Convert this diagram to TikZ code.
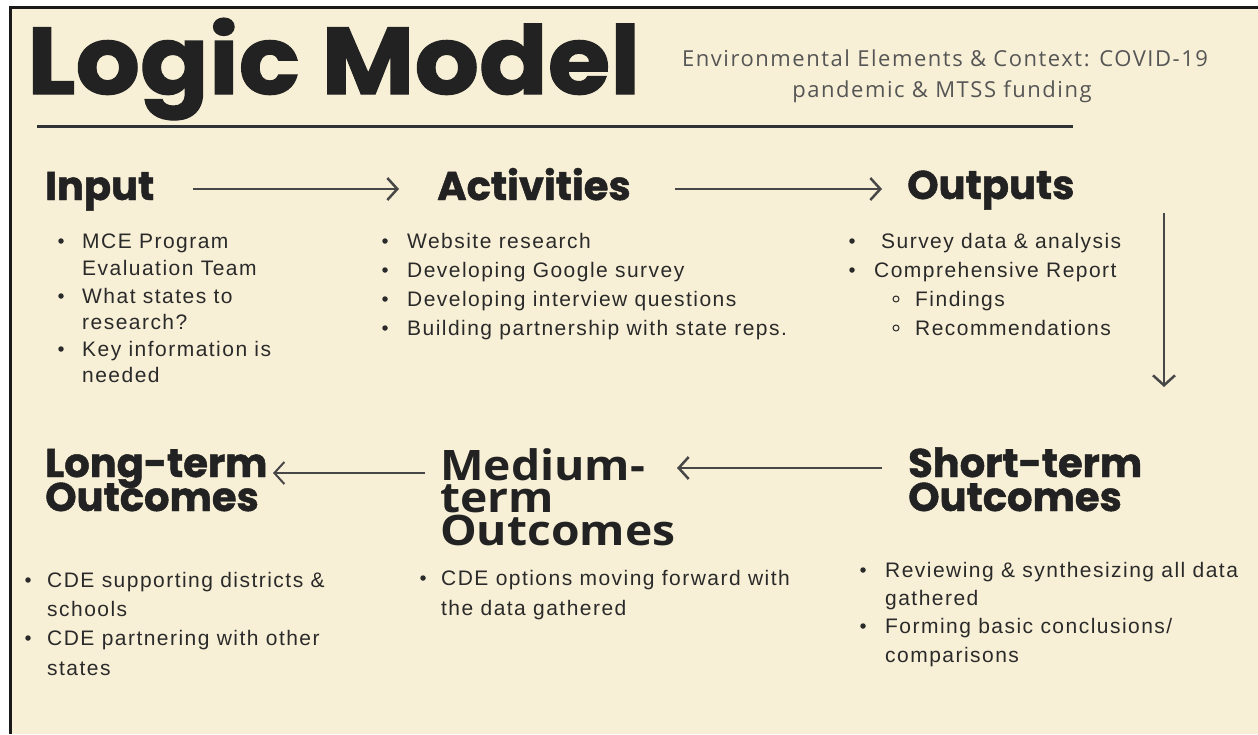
\documentclass[tikz,border=0pt]{standalone}
\usepackage{fontspec}
\usetikzlibrary{arrows.meta}
\setmainfont{Liberation Sans}
\newfontfamily\headfont{Poppins}[BoldFeatures={FakeBold=1.2}]
\newfontfamily\subfont{Open Sans}[LetterSpace=7]
\newfontfamily\bodyfont{Liberation Sans}[LetterSpace=7]
\newfontfamily\medfont{Open Sans}[FakeStretch=1.1]
\definecolor{cream}{HTML}{F8F0D6}
\definecolor{headc}{HTML}{222222}
\definecolor{bodyc}{HTML}{2A2A2A}
\definecolor{arrowc}{HTML}{474747}
\definecolor{subc}{HTML}{555555}
\definecolor{rulec}{HTML}{2F3336}
\begin{document}
\begin{tikzpicture}[x=1pt,y=-1pt,
  head/.style={inner sep=0pt, anchor=base west, text=headc, font=\headfont\bfseries\fontsize{40}{40}\selectfont},
  medhead/.style={inner sep=0pt, anchor=base west, text=headc, font=\medfont\bfseries\fontsize{42}{42}\selectfont},
  body/.style={inner sep=0pt, anchor=base west, text=bodyc, font=\bodyfont\fontsize{21}{24}\selectfont},
  dot/.style={circle, fill=bodyc, inner sep=0pt, minimum size=5.5pt},
  hollow/.style={circle, draw=bodyc, line width=1pt, inner sep=0pt, minimum size=6pt},
  flow/.style={draw=arrowc, line width=2.5pt, -{Straight Barb[length=10pt,width=22pt]}}]
\useasboundingbox (0,0) rectangle (1258,734);
\fill[white] (0,0) rectangle (1258,734);
\fill[black!90] (9,6) rectangle (1258,734);
\fill[cream] (12,9) rectangle (1258,734);

% title
\node[inner sep=0pt, anchor=base west, text=headc] (title) at (27,94)
  {\resizebox{613pt}{76pt}{\headfont\bfseries\addfontfeature{FakeBold=2}Logic Model}};
\node[inner sep=0pt, anchor=base, text=subc, font=\subfont\fontsize{22}{31}\selectfont] (sub1) at (945,66)
  {Environmental Elements \& Context: COVID-19};
\node[inner sep=0pt, anchor=base, text=subc, font=\subfont\fontsize{22}{31}\selectfont] (sub2) at (942,97)
  {pandemic \& MTSS funding};
\coordinate (ruleL) at (37,126);
\coordinate (ruleR) at (1073,126);
\draw[rulec, line width=3pt] (ruleL) -- (ruleR);

% headings
\node[head] (inH) at (45,200) {Input};
\node[head] (actH) at (437,200) {Activities};
\node[head] (outH) at (907,199) {Outputs};
\node[head] (ltH1) at (45,477) {Long-term};
\node[head] (ltH2) at (45,511) {Outcomes};
\node[medhead] (mtH1) at (440,480) {Medium-};
\node[medhead] (mtH2) at (440,512) {term};
\node[medhead] (mtH3) at (440,545) {Outcomes};
\node[head] (stH1) at (908,477) {Short-term};
\node[head] (stH2) at (908,511) {Outcomes};

% arrows
\coordinate (a1s) at (193,189); \coordinate (a1e) at (399,189);
\coordinate (a2s) at (675,189); \coordinate (a2e) at (882,189);
\coordinate (a3s) at (1164,213); \coordinate (a3e) at (1164,387);
\coordinate (a4s) at (882,468); \coordinate (a4e) at (677,468);
\coordinate (a5s) at (425,473); \coordinate (a5e) at (273,473);
\draw[flow] (a1s) -- (a1e);
\draw[flow] (a2s) -- (a2e);
\draw[flow] (a3s) -- (a3e);
\draw[flow] (a4s) -- (a4e);
\draw[flow, line width=2pt] (a5s) -- (a5e);

% Input list
\node[dot] (inB1) at (61,241) {};
\node[body] (in1) at (82,248) {MCE Program};
\node[body] (in2) at (82,275.5) {Evaluation Team};
\node[dot] (inB2) at (61,296) {};
\node[body] (in3) at (82,303) {What states to};
\node[body] (in4) at (82,329.5) {research?};
\node[dot] (inB3) at (61,349) {};
\node[body] (in5) at (82,356) {Key information is};
\node[body] (in6) at (82,382.5) {needed};

% Activities list
\node[dot] (acB1) at (385,241) {};
\node[body] (ac1) at (407,248) {Website research};
\node[dot] (acB2) at (385,270) {};
\node[body] (ac2) at (407,277) {Developing Google survey};
\node[dot] (acB3) at (385,299) {};
\node[body] (ac3) at (407,306) {Developing interview questions};
\node[dot] (acB4) at (385,328) {};
\node[body] (ac4) at (407,335) {Building partnership with state reps.};

% Outputs list
\node[dot] (ouB1) at (852,241) {};
\node[body] (ou1) at (881,248) {Survey data \& analysis};
\node[dot] (ouB2) at (852,270) {};
\node[body] (ou2) at (874,277) {Comprehensive Report};
\node[hollow] (ouS1) at (896,299) {};
\node[body] (ou3) at (915,306) {Findings};
\node[hollow] (ouS2) at (896,328) {};
\node[body] (ou4) at (915,335) {Recommendations};

% Long-term list
\node[dot] (ltB1) at (28,580) {};
\node[body] (lt1) at (47,587) {CDE supporting districts \&};
\node[body] (lt2) at (47,616) {schools};
\node[dot] (ltB2) at (28,638) {};
\node[body] (lt3) at (47,645) {CDE partnering with other};
\node[body] (lt4) at (47,675) {states};

% Medium-term list
\node[dot] (mtB1) at (423,578) {};
\node[body] (mt1) at (441,585) {CDE options moving forward with};
\node[body] (mt2) at (441,615) {the data gathered};

% Short-term list
\node[dot] (stB1) at (863,570) {};
\node[body] (st1) at (885,577) {Reviewing \& synthesizing all data};
\node[body] (st2) at (885,605) {gathered};
\node[dot] (stB2) at (863,626) {};
\node[body] (st3) at (885,633) {Forming basic conclusions/};
\node[body] (st4) at (885,662) {comparisons};
\end{tikzpicture}
\end{document}
